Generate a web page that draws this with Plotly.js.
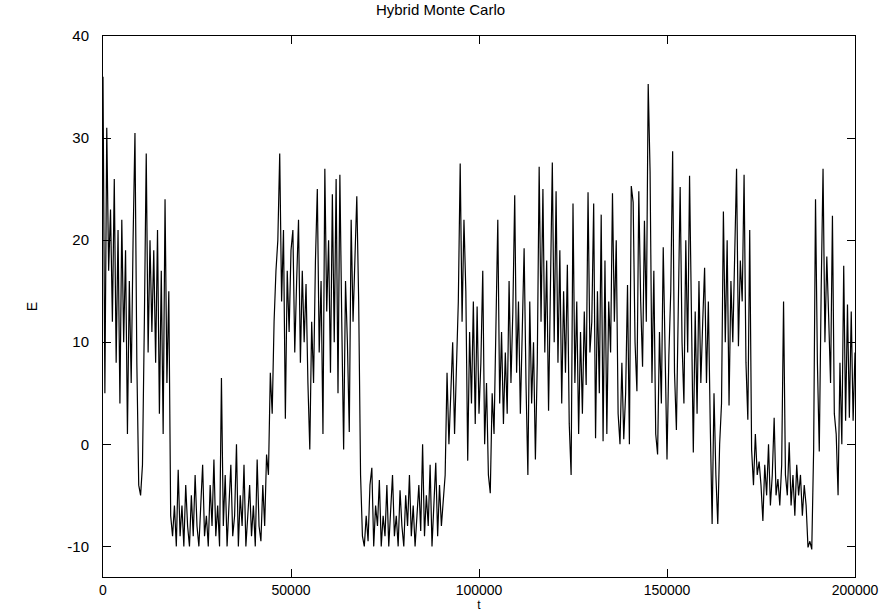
<!DOCTYPE html>
<html>
<head>
<meta charset="utf-8">
<script src="https://cdn.plot.ly/plotly-3.0.1.min.js"></script>
<style>html,body{margin:0;padding:0;background:#fff;}#chart{width:881px;height:614px;}</style>
</head>
<body>
<div id="chart"></div>
<script>
// Sampling step of the Monte Carlo time axis
const T_STEP = 500;
// Energy E, one value every T_STEP
const energy = [
  36, 5, 31, 17, 23, 12, 26, 8, 21, 4,
  22, 10, 19, 1, 16, 6, 20, 30.5, 8, -4,
  -5, -2, 12, 28.5, 9, 20, 11, 19, 8, 21,
  3, 17, 1, 24, 6, 15, -7, -9, -6, -10,
  -2.5, -9, -6, -10, -4, -8, -10, -5, -9, -3,
  -8, -10, -6, -2, -9, -7, -10, -4, -8, -1.5,
  -9, -6, -10, 6.5, -8, -3, -10, -6, -2, -9,
  -7, 0, -10, -5, -8, -2, -10, -7, -4, -9,
  -6, -10, -1.5, -8, -9.5, -4, -8, -1, -3, 7,
  3, 12, 17, 20, 28.5, 14, 21, 2.5, 17, 11,
  19, 21, 9, 16, 22, 8, 17, 10, 15.7, 6,
  -0.5, 12, 6, 18, 25, 9, 16, 1, 27, 13,
  20, 7, 24.5, 10, 26, 5, 26.4, 12, -0.5, 16,
  10, 1.2, 22, 12, 18, 24.3, 14, -3, -9, -10,
  -7, -9.5, -4, -2.3, -10, -6, -8, -3.5, -10, -7,
  -9, -4, -10, -6, -3, -9, -7, -10, -4.5, -8,
  -10, -5, -8, -3, -9, -6, -10, -7, -4, -8.5,
  0, -9, -5, -8, -2, -10, -6, -1.8, -9, -4,
  -8, -5, -3, 7, 0, 5, 10, 1, 9, 14,
  27.5, 12, 22, 15, -1.6, 11, 4, 14, 2, 13.5,
  3, 8, 17, 0, 6, -3, -4.8, 5, 1, 12,
  22, 4, 11, 2, 9, 3, 16, 6, 13, 24.4,
  7, 14, 3, 11, 19.2, 6, -3, 14, 4, 10,
  -1.5, 8, 27.2, 12, 25, 9, 18, 3.3, 14, 27.6,
  10, 24.8, 8, 19, 4, 15, 7, 17.6, 2, -3,
  23.6, 6, 14, 1, 11, 3, 13, 5.8, 24.7, 9,
  12, 23.6, 0.6, 15, 5, 22.5, 0.3, 18, 1, 14,
  9, 24.6, 12, 20, 3, 0, 8, 0.5, 5, 15.6,
  0, 25.3, 23.7, 10, 5.2, 24.8, 14, 7.6, 21.9, 12,
  35.3, 26.7, 6, 17, 1, -1, 11, 4, 19.3, 8,
  -1.5, 8.7, 15, 28.7, 7, 1.4, 12, 25.2, 10, 4,
  20, 9, 26.3, 11, -0.8, 13, 3, 16, 6, 12,
  17.3, 6, 14, 2, -7.8, 5, -3, -7.8, 0, 4,
  22.8, 10, 20, 3.8, 16, 10, 20, 27, 9.6, 18,
  14, 26.4, 8, 2.4, 21, -0.5, -4, 1, -3, -1.7,
  -4, -7.5, -2, -5, 0, -6, -3, 2.6, -5, -3.4,
  -6, -2, 14, -3, -5, 0.2, -6, -3, -7, -2,
  -5, -3, -7, -4, -6, -10.1, -9.5, -10.3, -0.5, 24,
  8, -0.7, 15, 27, 10, 18.4, 12.4, 6, 22.4, 3,
  1, -5, 8, 0, 17.5, 2.3, 13.7, 2.6, 13, 2.3,
  9
];
const tValues = energy.map((_, i) => i * T_STEP);

const xTicks = [0, 50000, 100000, 150000, 200000];
const yTicks = [-10, 0, 10, 20, 30, 40];

const font = {family: 'Liberation Sans, Arial, sans-serif', color: '#000', size: 15};

Plotly.newPlot('chart', [{
  x: tValues,
  y: energy,
  type: 'scatter',
  mode: 'lines',
  line: {color: '#000', width: 1.2},
  hoverinfo: 'skip'
}], {
  width: 881,
  height: 614,
  paper_bgcolor: '#fff',
  plot_bgcolor: '#fff',
  font: font,
  showlegend: false,
  margin: {l: 103, r: 26, t: 36, b: 37, pad: 0},
  title: {text: 'Hybrid Monte Carlo', font: {family: font.family, size: 15, color: '#000'}, x: 0.5, xanchor: 'center', y: 0.992, yanchor: 'top'},
  xaxis: {
    range: [0, 200000],
    tickvals: xTicks,
    ticktext: xTicks.map(String),
    tickfont: {family: font.family, size: 14, color: '#000'},
    ticks: 'inside', ticklen: 8, tickwidth: 1, tickcolor: '#000',
    showline: true, linecolor: '#000', linewidth: 1, mirror: 'ticks',
    showgrid: false, zeroline: false,
    ticklabelstandoff: 0,
    automargin: false,
    title: {text: 't', font: {family: font.family, size: 12, color: '#000'}, standoff: 0}
  },
  yaxis: {
    range: [-13, 40],
    tickvals: yTicks,
    ticktext: yTicks.map(String),
    ticks: 'inside', ticklen: 8, tickwidth: 1, tickcolor: '#000',
    showline: true, linecolor: '#000', linewidth: 1, mirror: 'ticks',
    showgrid: false, zeroline: false,
    ticklabelstandoff: 10,
    automargin: false,
    title: {text: 'E', font: {family: font.family, size: 14, color: '#000'}, standoff: 26}
  }
}, {staticPlot: true, displayModeBar: false});
</script>
</body>
</html>
